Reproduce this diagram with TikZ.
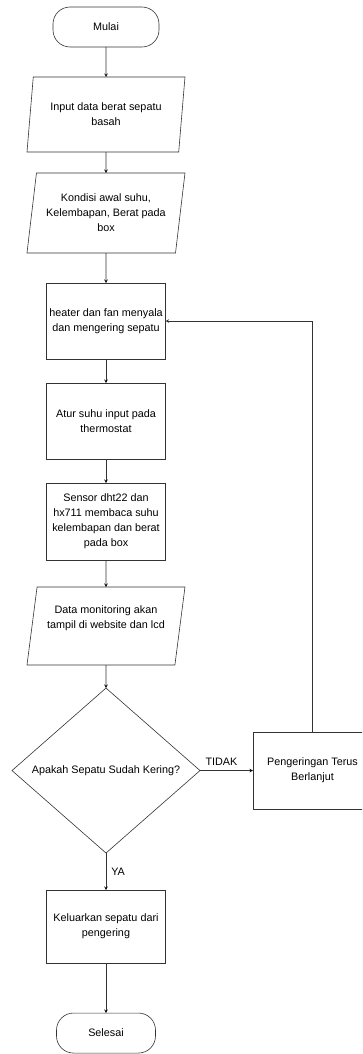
\documentclass[tikz,border=0pt]{standalone}
\usepackage{fontspec}
\setmainfont{Liberation Sans}
\usepackage{tikz}
\usetikzlibrary{calc,positioning,shapes,arrows}

\begin{document}
\begin{tikzpicture}[x=1pt,y=-1pt,
		every node/.style={font=\fontsize{10.8pt}{15pt}\selectfont,outer sep=0pt},
		terminal/.style={shape=rectangle,draw=black!80,rounded corners=17pt,minimum width=#1,minimum height=40pt},
		io/.style={shape=trapezium,draw=black!80,trapezium left angle=78,trapezium right angle=102,trapezium stretches body,minimum width=158pt,minimum height=#1,align=center,inner xsep=1pt},
		proses/.style={shape=rectangle,draw=black!80,minimum width=119pt,minimum height=#1,align=center,inner xsep=1pt},
		keputusan/.style={shape=diamond,draw=black!80,minimum width=188pt,minimum height=165pt,inner sep=0pt},
		alur/.style={->,>=stealth,draw=black!80,line width=0.6pt}]
		\clip (0,0) rectangle (362,1054);
		\begin{scope}[line width=0.6pt]
			\node(mulai) [terminal=106pt] at (106,27) {Mulai};
			\node(input) [io=75pt,below=30pt of mulai] {Input data berat sepatu\\basah};
			\node(kondisi) [io=80pt,below=21pt of input] {Kondisi awal suhu,\\Kelembapan, Berat pada\\box};
			\node(heater) [proses=76pt,below=30pt of kondisi] {heater dan fan menyala\\dan mengering sepatu};
			\node(atur) [proses=76pt,below=24pt of heater] {Atur suhu input pada\\thermostat};
			\node(sensor) [proses=77pt,below=24pt of atur] {Sensor dht22 dan\\hx711 membaca suhu\\kelembapan dan berat\\pada box};
			\node(data) [io=78pt,below=27pt of sensor,text depth=18pt] {Data monitoring akan\\tampil di website dan lcd};
			\node(cek) [keputusan,below=23pt of data] {Apakah Sepatu Sudah Kering?};
			\node(lanjut) [proses=77pt,right=53pt of cek] {Pengeringan Terus\\Berlanjut};
			\node(keluar) [proses=73pt,below=37pt of cek] {Keluarkan sepatu dari\\pengering};
			\node(selesai) [terminal=99pt,below=50pt of keluar] {Selesai};

			\path[alur]
				(mulai) edge (input)
				(input) edge (kondisi)
				(kondisi) edge (heater)
				(heater) edge (atur)
				(atur) edge (sensor)
				(sensor) edge (data)
				(data) edge (cek)
				(cek) edge node [midway,above=2pt,xshift=-5pt] {TIDAK} (lanjut)
				(cek) edge node [midway,right=2pt] {YA} (keluar)
				(keluar) edge (selesai);
			\draw[alur] (lanjut.north) |- (heater.east);
		\end{scope}
	\end{tikzpicture}
\end{document}
